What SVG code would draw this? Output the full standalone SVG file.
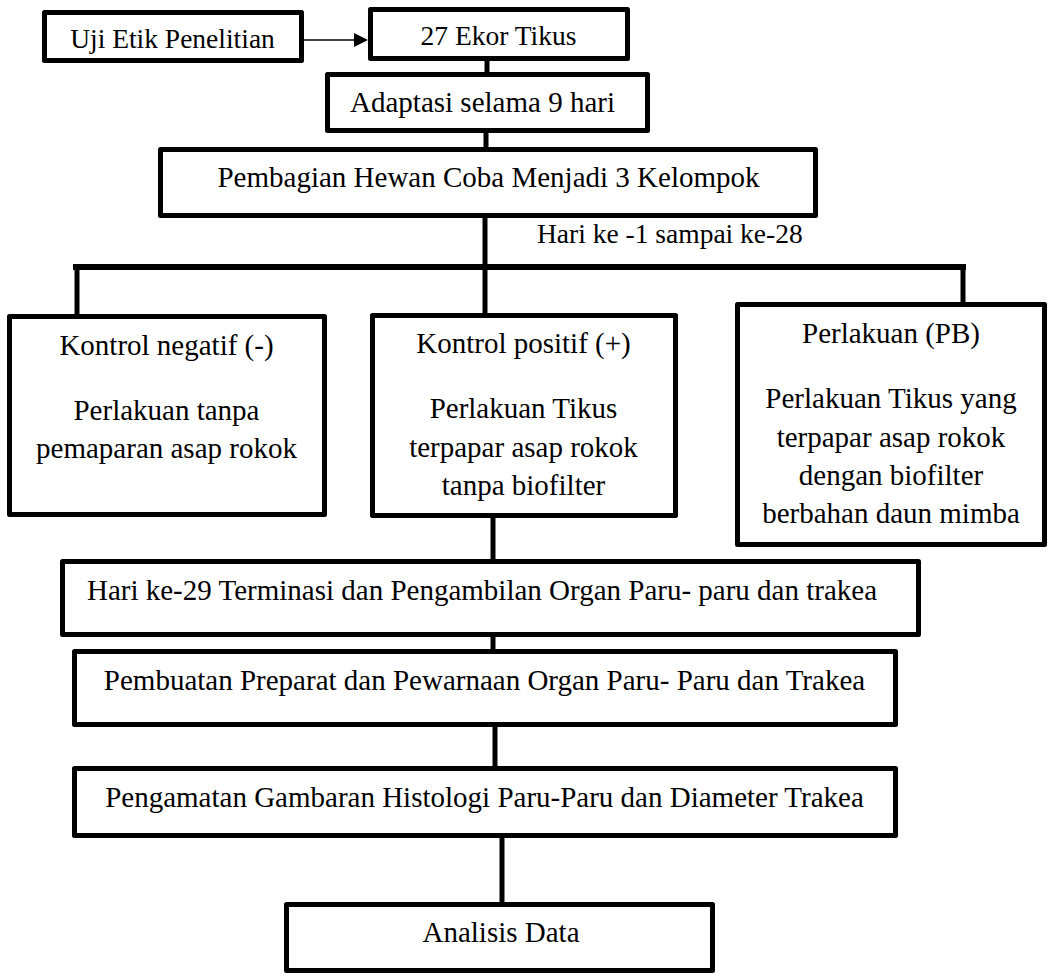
<svg xmlns="http://www.w3.org/2000/svg" width="1052" height="976" viewBox="0 0 1052 976">
<style>
.box{fill:#fff;stroke:#000;stroke-width:5;stroke-linejoin:round}
.t{font-family:"Liberation Serif","Times New Roman",serif;font-size:29px;fill:#000;text-anchor:middle}
.s{font-size:27.5px}
.c{stroke:#000;stroke-width:5;fill:none}
</style>
<rect width="1052" height="976" fill="#fff"/>
<g id="connectors">
<line x1="304" y1="40" x2="356" y2="40" stroke="#000" stroke-width="1.6"/>
<polygon points="354,33 368,40 354,47" fill="#000"/>
<line class="c" x1="487" y1="59" x2="487" y2="74"/>
<line class="c" x1="486" y1="131" x2="486" y2="149"/>
<line class="c" x1="485" y1="216" x2="485" y2="316"/>
<line x1="73" y1="267" x2="966" y2="267" stroke="#000" stroke-width="6"/>
<line class="c" x1="77" y1="264" x2="77" y2="316"/>
<line class="c" x1="963" y1="264" x2="963" y2="304"/>
<line class="c" x1="493" y1="516" x2="493" y2="561"/>
<line class="c" x1="493" y1="635" x2="493" y2="651"/>
<line class="c" x1="495" y1="725" x2="495" y2="768"/>
<line class="c" x1="502" y1="836" x2="502" y2="904"/>
</g>
<g id="uji">
<rect class="box" x="44.5" y="12.5" width="257" height="48"/>
<text class="t s" x="172.5" y="48" font-size="27">Uji Etik Penelitian</text>
</g>
<g id="tikus">
<rect class="box" x="370.5" y="9.5" width="257" height="49"/>
<text class="t s" x="498.5" y="45">27 Ekor Tikus</text>
</g>
<g id="adaptasi">
<rect class="box" x="327.5" y="74.5" width="320" height="56"/>
<text class="t" x="482.5" y="112">Adaptasi selama 9 hari</text>
</g>
<g id="pembagian">
<rect class="box" x="160.5" y="149.5" width="655" height="66"/>
<text class="t" x="488.5" y="187">Pembagian Hewan Coba Menjadi 3 Kelompok</text>
</g>
<g id="label-hari">
<text class="t s" x="537" y="243" style="text-anchor:start">Hari ke -1 sampai ke-28</text>
</g>
<g id="kontrol-negatif">
<rect class="box" x="9.5" y="316.5" width="315" height="198"/>
<text class="t" x="166.5" y="355">Kontrol negatif (-)</text>
<text class="t" x="166.5" y="420">Perlakuan tanpa</text>
<text class="t" x="166.5" y="458">pemaparan asap rokok</text>
</g>
<g id="kontrol-positif">
<rect class="box" x="372.5" y="315.5" width="303" height="200"/>
<text class="t" x="523.5" y="353">Kontrol positif (+)</text>
<text class="t" x="523.5" y="418">Perlakuan Tikus</text>
<text class="t" x="523.5" y="457">terpapar asap rokok</text>
<text class="t" x="523.5" y="495">tanpa biofilter</text>
</g>
<g id="perlakuan-pb">
<rect class="box" x="737.5" y="304.5" width="307" height="240"/>
<text class="t" x="891" y="343">Perlakuan (PB)</text>
<text class="t" x="891" y="408">Perlakuan Tikus yang</text>
<text class="t" x="891" y="447">terpapar asap rokok</text>
<text class="t" x="891" y="485">dengan biofilter</text>
<text class="t" x="891" y="523">berbahan daun mimba</text>
</g>
<g id="terminasi">
<rect class="box" x="62.5" y="561.5" width="856" height="73"/>
<text class="t" x="482" y="600">Hari ke-29 Terminasi dan Pengambilan Organ Paru- paru dan trakea</text>
</g>
<g id="pembuatan">
<rect class="box" x="74.5" y="651.5" width="821" height="73"/>
<text class="t" x="484.5" y="690">Pembuatan Preparat dan Pewarnaan Organ Paru- Paru dan Trakea</text>
</g>
<g id="pengamatan">
<rect class="box" x="74.5" y="768.5" width="821" height="67"/>
<text class="t" x="484.5" y="807">Pengamatan Gambaran Histologi Paru-Paru dan Diameter Trakea</text>
</g>
<g id="analisis">
<rect class="box" x="286.5" y="904.5" width="426" height="66"/>
<text class="t" x="501" y="942">Analisis Data</text>
</g>
</svg>
